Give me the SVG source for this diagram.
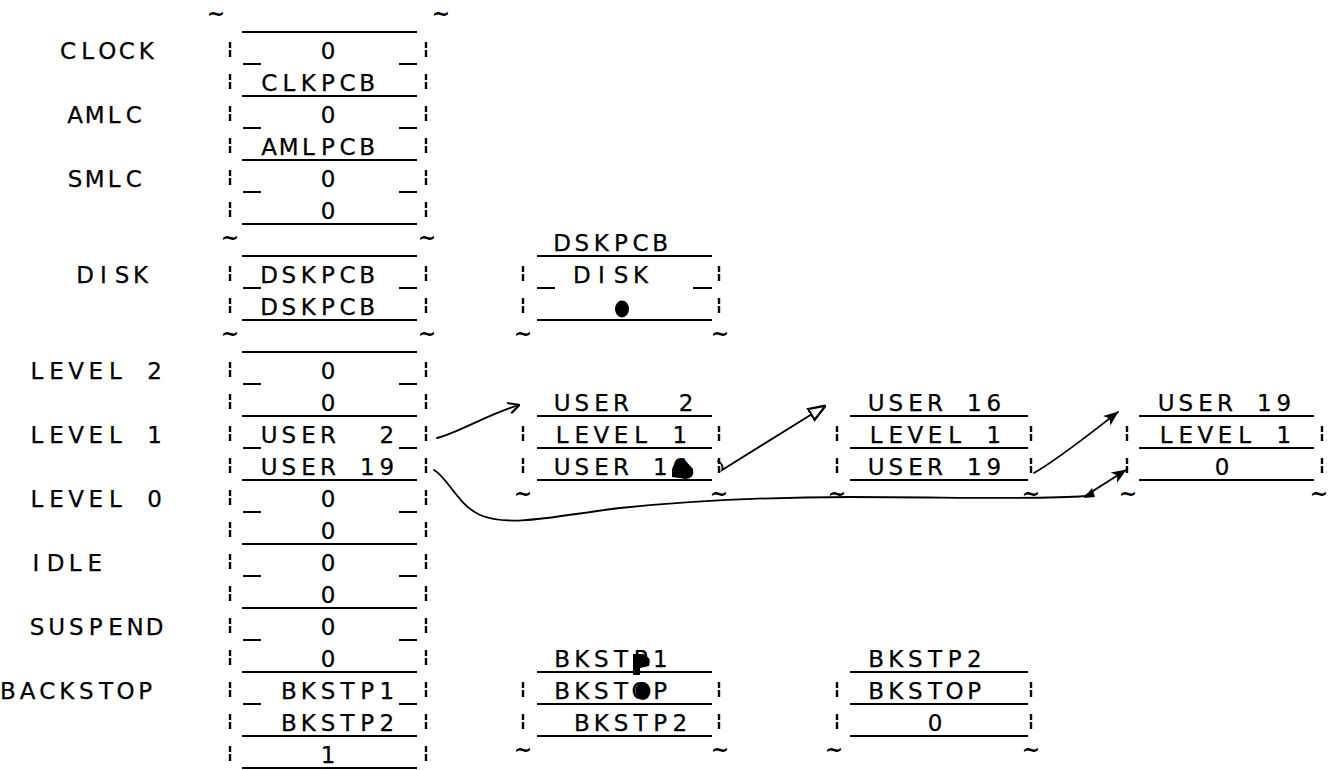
<svg xmlns="http://www.w3.org/2000/svg" width="1330" height="770" viewBox="0 0 1330 770">
<style>
.t{font-family:"DejaVu Sans","Liberation Sans",sans-serif;font-size:23px;fill:#000;stroke:#000;stroke-width:0.25;text-anchor:middle}
.tl{font-family:"DejaVu Sans","Liberation Sans",sans-serif;font-size:22px;font-weight:bold;fill:#000;text-anchor:middle}
.ln{stroke:#000;stroke-width:2.2;fill:none}
.bar{stroke:#000;stroke-width:2.4;fill:none;stroke-dasharray:6 2 7 17}
.cn{stroke:#000;stroke-width:1.8;fill:none;stroke-linecap:round}
</style>
<defs>
<marker id="mv" viewBox="0 0 10 10" refX="9.5" refY="5" markerWidth="13" markerHeight="13" markerUnits="userSpaceOnUse" orient="auto"><path d="M1,1 L10,5 L2,9.5" fill="none" stroke="#000" stroke-width="1.6"/></marker>
<marker id="mh" viewBox="0 0 10 10" refX="9.5" refY="5" markerWidth="18" markerHeight="18" markerUnits="userSpaceOnUse" orient="auto"><path d="M0.5,1.5 L10,5 L0.5,8.5 Z" fill="#fff" stroke="#000" stroke-width="1.3"/></marker>
<marker id="ms" viewBox="0 0 10 10" refX="9.5" refY="5" markerWidth="15" markerHeight="15" markerUnits="userSpaceOnUse" orient="auto"><path d="M0,1 L10,5 L0,9 L2.5,5 Z" fill="#000"/></marker>
</defs>
<rect width="1330" height="770" fill="#fff"/>

<g id="labels">
<text class="t" x="68 87.6 107.2 126.8 146.4" y="59">CLOCK</text>
<text class="t" x="75 94.6 114.2 133.8" y="123">AMLC</text>
<text class="t" x="75 94.6 114.2 133.8" y="187">SMLC</text>
<text class="t" x="85 103.5 122 140.5" y="283">DISK</text>
<text class="t" x="37 56.6 76.2 95.8 115.4 135 154.6" y="379">LEVEL 2</text>
<text class="t" x="37 56.6 76.2 95.8 115.4 135 154.6" y="443">LEVEL 1</text>
<text class="t" x="37 56.6 76.2 95.8 115.4 135 154.6" y="507">LEVEL 0</text>
<text class="t" x="36 55.6 75.2 94.8" y="571">IDLE</text>
<text class="t" x="37 56.6 76.2 95.8 115.4 135 154.6" y="635">SUSPEND</text>
<text class="t" x="8 27.6 47.2 66.8 86.4 106 125.6 145.2" y="699">BACKSTOP</text>
</g>

<g id="main-column">
<text class="tl" x="216" y="21">~</text><text class="tl" x="441" y="21">~</text>
<text class="tl" x="230" y="245">~</text><text class="tl" x="427" y="245">~</text>
<text class="tl" x="230" y="341">~</text><text class="tl" x="427" y="341">~</text>
<path class="ln" d="M242,32H417M242,96H417M242,160H417M242,224H417M242,256H417M242,320H417M242,352H417M242,416H417M242,480H417M242,544H417M242,608H417M242,672H417M242,736H417M242,768H417"/>
<path class="ln" d="M243,64H261M399,64H417M243,128H261M399,128H417M243,192H261M399,192H417M243,288H261M399,288H417M243,384H261M399,384H417M243,448H261M399,448H417M243,512H261M399,512H417M243,576H261M399,576H417M243,640H261M399,640H417M243,704H261M399,704H417"/>
<path class="bar" d="M230,42V234M426,42V234M230,266V330M426,266V330M230,362V770M426,362V770"/>
<text class="t" x="328" y="59">0</text>
<text class="t" x="269.2 288.8 308.4 328 347.6 367.2" y="91">CLKPCB</text>
<text class="t" x="328" y="123">0</text>
<text class="t" x="269.2 288.8 308.4 328 347.6 367.2" y="155">AMLPCB</text>
<text class="t" x="328" y="187">0</text>
<text class="t" x="328" y="219">0</text>
<text class="t" x="269.2 288.8 308.4 328 347.6 367.2" y="283">DSKPCB</text>
<text class="t" x="269.2 288.8 308.4 328 347.6 367.2" y="315">DSKPCB</text>
<text class="t" x="328" y="379">0</text>
<text class="t" x="328" y="411">0</text>
<text class="t" x="269.2 288.8 308.4 328 347.6 386.8" y="443">USER 2</text>
<text class="t" x="269.2 288.8 308.4 328 347.6 367.2 386.8" y="475">USER 19</text>
<text class="t" x="328" y="507">0</text>
<text class="t" x="328" y="539">0</text>
<text class="t" x="328" y="571">0</text>
<text class="t" x="328" y="603">0</text>
<text class="t" x="328" y="635">0</text>
<text class="t" x="328" y="667">0</text>
<text class="t" x="288.8 308.4 328 347.6 367.2 386.8" y="699">BKSTP1</text>
<text class="t" x="288.8 308.4 328 347.6 367.2 386.8" y="731">BKSTP2</text>
<text class="t" x="328" y="763">1</text>
</g>

<g id="dskpcb">
<text class="t" x="562.2 581.8 601.4 621 640.6 660.2" y="251">DSKPCB</text>
<path class="ln" d="M537,256H712M537,320H712M537,288H555M693,288H712"/>
<path class="bar" d="M523,266V330M719,266V330"/>
<text class="t" x="581.8 601.4 621 640.6" y="283">DISK</text>
<ellipse cx="622" cy="309" rx="7" ry="8.5" fill="#000"/>
<text class="tl" x="523" y="341">~</text><text class="tl" x="720" y="341">~</text>
</g>

<g id="user2">
<text class="t" x="562.2 581.8 601.4 621 640.6 686" y="411">USER 2</text>
<path class="ln" d="M537,416H712M537,448H712M537,480H712"/>
<path class="bar" d="M523,426V490M719,426V490"/>
<text class="t" x="562.2 581.8 601.4 621 640.6 660.2 679.8" y="443">LEVEL 1</text>
<text class="t" x="562.2 581.8 601.4 621 640.6 660.2 679.8" y="475">USER 16</text>
<path d="M672,477 L672,469 Q676,458 684,459 L693,469 Q695,478 686,479 Z" fill="#000"/>
<text class="tl" x="523" y="501">~</text><text class="tl" x="719" y="501">~</text>
</g>

<g id="user16">
<text class="t" x="876.2 895.8 915.4 935 954.6 974.2 993.8" y="411">USER 16</text>
<path class="ln" d="M850,416H1028M850,448H1028M850,480H1028"/>
<path class="bar" d="M837,426V490M1031,426V490"/>
<text class="t" x="876.2 895.8 915.4 935 954.6 974.2 993.8" y="443">LEVEL 1</text>
<text class="t" x="876.2 895.8 915.4 935 954.6 974.2 993.8" y="475">USER 19</text>
<text class="tl" x="837" y="501">~</text><text class="tl" x="1031" y="501">~</text>
</g>

<g id="user19">
<text class="t" x="1166.2 1185.8 1205.4 1225 1244.6 1264.2 1283.8" y="411">USER 19</text>
<path class="ln" d="M1139,416H1314M1139,448H1314M1139,480H1314"/>
<path class="bar" d="M1127,426V490M1322,426V490"/>
<text class="t" x="1166.2 1185.8 1205.4 1225 1244.6 1264.2 1283.8" y="443">LEVEL 1</text>
<text class="t" x="1222" y="475">0</text>
<text class="tl" x="1128" y="501">~</text><text class="tl" x="1319" y="501">~</text>
</g>

<g id="bkstp1">
<text class="t" x="562.2 581.8 601.4 621 640.6 660.2" y="667">BKSTP1</text>
<path d="M633,675 L633,654 L643,654 Q652,657 649,666 L640,668 L640,675 Z" fill="#000"/>
<path class="ln" d="M537,672H712M537,704H712M537,736H712"/>
<path class="bar" d="M523,682V746M719,682V746"/>
<text class="t" x="562.2 581.8 601.4 621 640.6 660.2" y="699">BKSTOP</text>
<ellipse cx="643" cy="691" rx="7.5" ry="9" fill="#000"/>
<text class="t" x="581.8 601.4 621 640.6 660.2 679.8" y="731">BKSTP2</text>
<text class="tl" x="523" y="757">~</text><text class="tl" x="720" y="757">~</text>
</g>

<g id="bkstp2">
<text class="t" x="876.2 895.8 915.4 935 954.6 974.2" y="667">BKSTP2</text>
<path class="ln" d="M850,672H1028M850,704H1028M850,736H1028"/>
<path class="bar" d="M837,682V746M1031,682V746"/>
<text class="t" x="876.2 895.8 915.4 935 954.6 974.2" y="699">BKSTOP</text>
<text class="t" x="935" y="731">0</text>
<text class="tl" x="834" y="757">~</text><text class="tl" x="1031" y="757">~</text>
</g>

<g id="connectors">
<path class="cn" d="M437,438 C458,433 488,414 519,405" marker-end="url(#mv)"/>
<path class="cn" d="M718,461 Q724,465 722,470 L825,406" marker-end="url(#mh)"/>
<path class="cn" d="M1034,473 C1060,458 1092,432 1118,412" marker-end="url(#ms)"/>
<path class="cn" d="M434,470 C448,478 458,505 480,515 C510,528 560,515 620,508 C680,502 750,497 850,497 C950,497 1040,500 1085,496 L1126,470" marker-end="url(#ms)"/>
<path d="M1084,498 L1092,488 L1095,497 Z" fill="#000"/>
</g>
</svg>
